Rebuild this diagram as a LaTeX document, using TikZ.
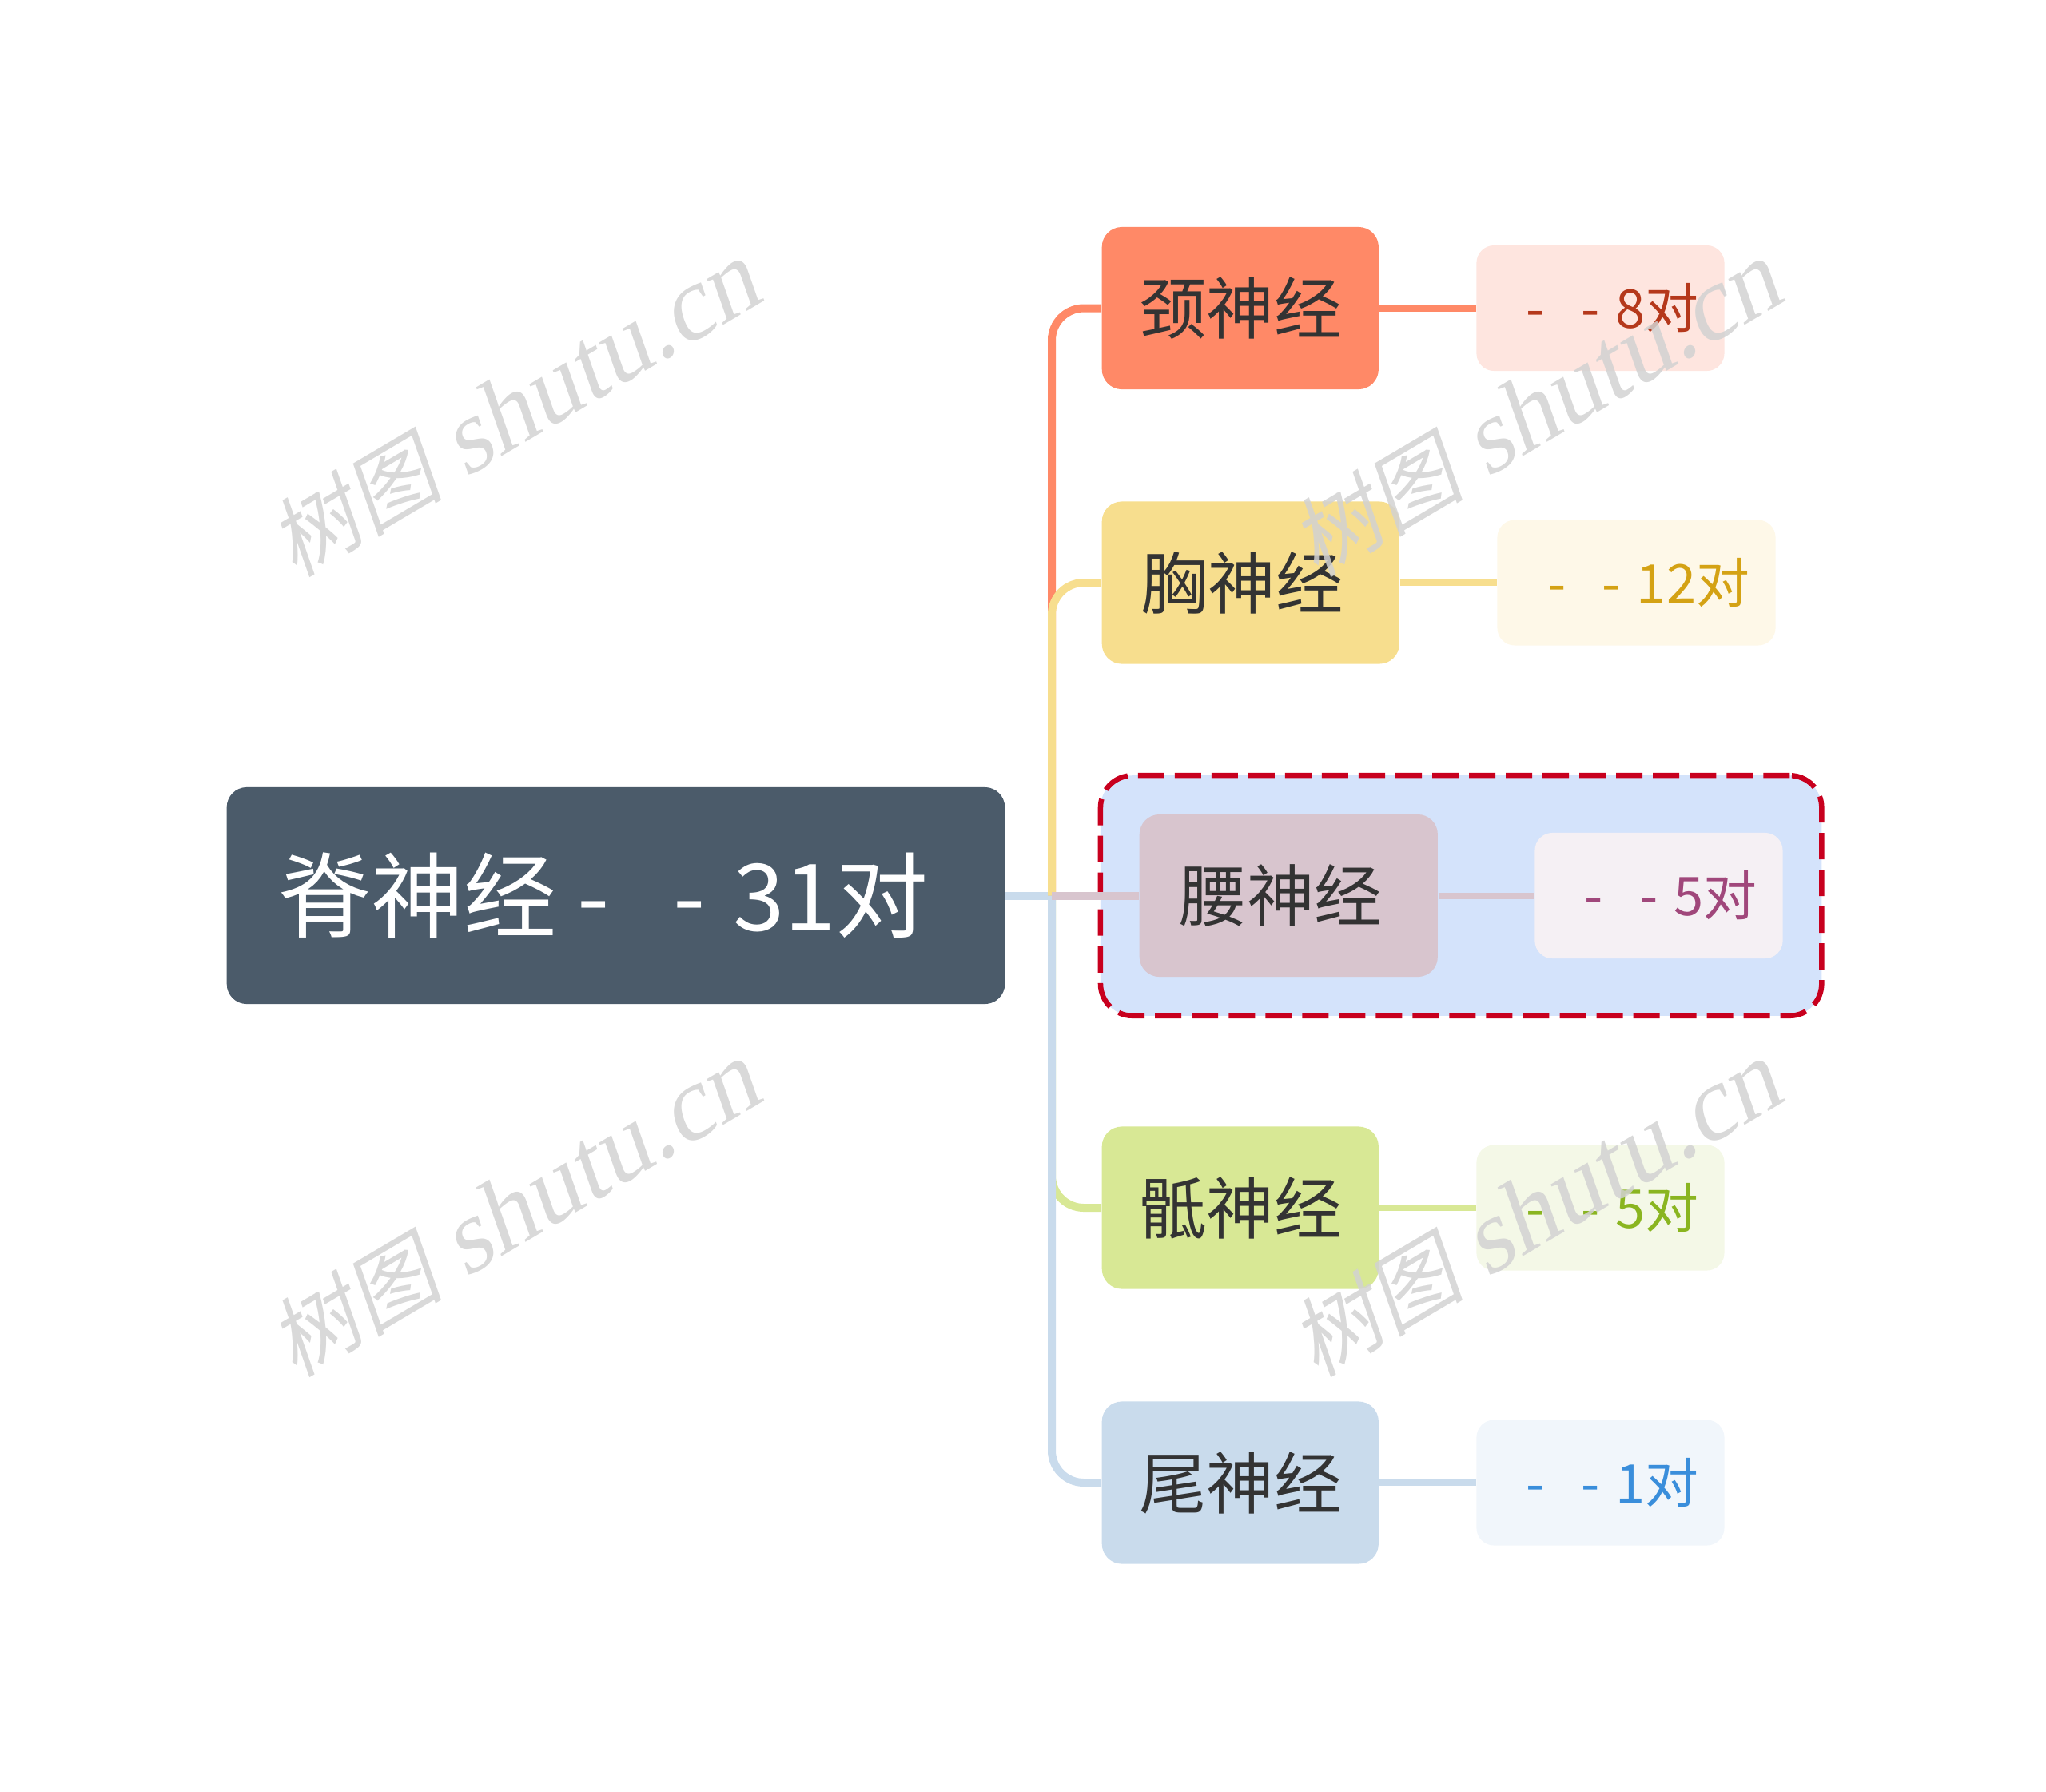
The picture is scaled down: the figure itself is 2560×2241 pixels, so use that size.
\documentclass[tikz,border=0pt]{standalone}
\usepackage{fontspec}
\setmainfont{Noto Sans CJK SC}
\newfontfamily\wmlatin[FakeSlant=0.2]{Liberation Serif}
\newfontfamily\wmcjk[FakeSlant=0.2]{Noto Sans CJK SC}
\usepackage{xcolor}
\usepackage{tikz}
\usetikzlibrary{positioning,fit,backgrounds}

\definecolor{rootfill}{HTML}{4B5B6A}
\definecolor{rootlink}{HTML}{C9DBEC}
\definecolor{textdark}{HTML}{333333}
\definecolor{jingfill}{HTML}{FF8967}
\definecolor{jingleaf}{HTML}{FEE5DF}
\definecolor{jingtext}{HTML}{B5381B}
\definecolor{xiongfill}{HTML}{F7DE8E}
\definecolor{xiongleaf}{HTML}{FEF8E8}
\definecolor{xiongtext}{HTML}{D4A214}
\definecolor{yaofill}{HTML}{D8C5CE}
\definecolor{yaoleaf}{HTML}{F5F0F4}
\definecolor{yaotext}{HTML}{A0477B}
\definecolor{difill}{HTML}{D8E895}
\definecolor{dileaf}{HTML}{F4F8E7}
\definecolor{ditext}{HTML}{8AB520}
\definecolor{weifill}{HTML}{C9DBEC}
\definecolor{weileaf}{HTML}{F1F6FB}
\definecolor{weitext}{HTML}{3A8EDB}
\definecolor{boxfill}{HTML}{D4E3FB}
\definecolor{boxred}{HTML}{C8001E}
\definecolor{wmgray}{HTML}{D2D2D2}

\newcommand\dashpair{-\hspace{0.68em}-\hspace{0.3em}}

\tikzset{
root/.style={
rounded corners=0.25cm,
minimum width=9.73cm,
minimum height=2.71cm,
fill=rootfill,
text=white,
font=\fontsize{33}{39}\selectfont
},
branch/.style={
rounded corners=0.25cm,
minimum width=3.46cm,
minimum height=2.03cm,
text=textdark,
font=\fontsize{24}{29}\selectfont
},
leaf/.style={
rounded corners=0.22cm,
minimum width=3.1cm,
minimum height=1.57cm,
font=\fontsize{19}{23}\selectfont
},
link/.style={
line width=0.1cm,
rounded corners=0.4cm
},
leaflink/.style={
line width=0.08cm
},
wm/.style={
text=wmgray,
opacity=0.85,
font=\fontsize{37}{44}\selectfont
}
}

\begin{document}
\begin{tikzpicture}[x=0.01cm,y=-0.01cm]
\useasboundingbox (0,0) rectangle (2560,2241);

\node[root](root) at (770.5,1120.5){脊神经 \dashpair 31对\hspace{0.3cm}\null};
\coordinate (hub) at (1316,1120.5);

\node[branch,fill=jingfill,anchor=west](jing) at (1378,385.5){颈神经};
\node[branch,fill=xiongfill,anchor=west,minimum width=3.72cm](xiong) at (1378,729){胸神经\hspace{0.22cm}\null};
\node[branch,fill=yaofill,anchor=west,minimum width=3.73cm](yao) at (1425,1120.5){腰神经\hspace{0.2cm}\null};
\node[branch,fill=difill,anchor=west](di) at (1378,1511){骶神经};
\node[branch,fill=weifill,anchor=west](wei) at (1378,1855){尾神经};

\node[leaf,fill=jingleaf,text=jingtext,right=1.21cm of jing](jingval){\hspace{0.45em}\dashpair 8对};
\node[leaf,fill=xiongleaf,text=xiongtext,right=1.21cm of xiong,minimum width=3.48cm](xiongval){\hspace{0.45em}\dashpair 12对};
\node[leaf,fill=yaoleaf,text=yaotext,right=1.2cm of yao](yaoval){\hspace{0.45em}\dashpair 5对};
\node[leaf,fill=dileaf,text=ditext,right=1.21cm of di](dival){\hspace{0.45em}\dashpair 5对};
\node[leaf,fill=weileaf,text=weitext,right=1.21cm of wei](weival){\hspace{0.45em}\dashpair 1对};

% highlight round the lumbar pair
\begin{scope}[on background layer]
\node[fit=(yao)(yaoval),inner sep=0.48cm,rounded corners=0.4cm,fill=boxfill,draw=boxred,line width=0.065cm,dash pattern=on 0.33cm off 0.13cm](yaobox){};
\end{scope}

\draw[link,draw=rootlink](root.east)--(hub);
\foreach \n/\c in {jing/jingfill,xiong/xiongfill,di/difill,wei/weifill}
\draw[link,draw=\c](hub)|-(\n.west);
\draw[link,draw=yaofill](hub)--(yao.west);

\foreach \n/\c in {jing/jingfill,xiong/xiongfill,yao/yaofill,di/difill,wei/weifill}
\draw[leaflink,draw=\c](\n.east)--(\n val.west);

% watermarks
\foreach \p [count=\i] in {(643,514),(1921,514),(643,1515),(1921,1515)}
\node[wm,rotate=30.6](wm\i) at \p {{\wmcjk\fontsize{31}{37}\selectfont 树图} {\wmlatin shutu.cn}};
\end{tikzpicture}
\end{document}
